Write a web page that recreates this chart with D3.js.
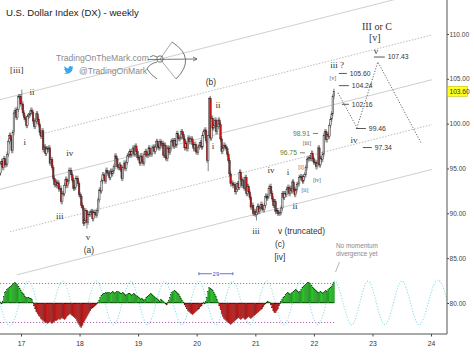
<!DOCTYPE html>
<html>
<head>
<meta charset="utf-8">
<script src="https://cdn.jsdelivr.net/npm/d3@7"></script>
<style>
  html, body { margin: 0; padding: 0; background: #fff; }
  svg { display: block; font-family: "Liberation Sans", Arial, sans-serif; }
</style>
</head>
<body>
<svg id="chart" width="474" height="353"></svg>
<script>
// weekly closes, U.S. Dollar Index, first week ends 2016-08-19
const FIRST_WEEK = '2016-08-19'
const FIRST_OPEN = 94.3
const closes2016 = [94.5, 95.5, 95.8, 95.1, 96.1, 95.4, 95.5, 96.6, 98.0, 98.7, 98.3, 97.0, 99.0, 101.2, 101.5, 100.7, 101.6, 103.0, 103.0, 102.2]
const closes2017 = [102.2, 101.2, 100.7, 100.5, 99.8, 100.8, 100.9, 101.1, 101.5, 101.3, 100.3, 99.7, 100.3, 101.1, 100.5, 99.9, 99.0, 98.6, 99.2, 97.1, 97.4, 96.7, 97.2, 97.1, 97.3, 95.6, 96.0, 95.1, 93.9, 93.2, 93.5, 93.1, 93.4, 92.7, 92.8, 91.3, 92.2, 92.2, 93.1, 93.8, 93.1, 93.6, 94.8, 94.8, 94.3, 93.7, 92.8, 92.9, 93.9, 93.9, 93.3, 92.1]
const closes2018 = [91.9, 90.9, 90.6, 88.9, 89.2, 90.3, 89.0, 89.9, 89.9, 90.1, 90.2, 89.4, 90.1, 90.1, 89.8, 90.3, 91.5, 92.6, 92.5, 93.6, 94.3, 94.2, 93.6, 94.8, 94.5, 94.5, 94.0, 94.7, 94.4, 94.7, 95.2, 96.4, 96.1, 95.2, 95.1, 95.4, 94.9, 93.9, 95.1, 95.6, 95.0, 95.7, 96.4, 96.5, 96.9, 96.5, 96.9, 97.3, 96.6, 97.5, 96.9, 96.2]
const closes2019 = [96.2, 95.6, 96.4, 95.8, 95.6, 96.6, 96.9, 96.5, 96.5, 97.3, 96.6, 96.6, 97.3, 97.4, 96.9, 97.4, 98.0, 97.5, 97.3, 98.0, 97.6, 97.8, 96.5, 97.6, 96.2, 96.1, 97.3, 96.8, 97.2, 98.0, 98.1, 97.5, 98.1, 97.6, 98.9, 98.4, 98.3, 98.5, 99.1, 98.8, 98.3, 97.3, 97.8, 97.2, 98.4, 98.0, 98.3, 98.3, 97.7, 97.2, 97.7, 96.9]
const closes2020 = [96.8, 97.4, 97.6, 97.9, 97.4, 98.7, 99.1, 99.3, 98.1, 95.9, 98.7, 102.8, 98.4, 100.6, 99.5, 99.8, 100.4, 99.1, 99.7, 100.4, 99.9, 98.3, 96.9, 97.3, 97.6, 97.4, 97.2, 96.6, 95.9, 94.4, 93.3, 93.4, 93.1, 93.2, 92.4, 92.7, 93.3, 92.9, 94.6, 93.8, 93.1, 93.7, 92.8, 94.0, 92.2, 93.0, 92.4, 91.8, 90.7, 90.9, 90.0, 90.2]
const closes2021 = [89.9, 90.1, 90.8, 90.2, 90.6, 91.0, 90.5, 90.4, 90.9, 91.9, 91.7, 91.9, 92.8, 93.0, 92.2, 91.6, 90.9, 91.3, 90.2, 90.3, 90.0, 90.0, 90.1, 90.6, 92.2, 91.8, 92.2, 92.1, 92.7, 92.9, 92.2, 92.8, 92.5, 93.5, 92.7, 92.1, 92.6, 93.2, 93.3, 94.0, 94.1, 94.0, 93.6, 94.1, 94.3, 95.1, 96.0, 96.1, 96.2, 96.1, 96.7, 96.1, 95.7]
const closes2022 = [95.7, 95.2, 95.6, 97.3, 95.4, 96.1, 96.0, 96.6, 98.7, 99.1, 98.2, 98.8, 98.6, 99.8, 100.5, 101.1, 103.0, 103.6]

// weeks whose range reached well past the body
const wickExtremes = [
  { date: '2017-01-06', high: 103.8, low: 101.5 },
  { date: '2018-02-16', high: 90.4, low: 88.3 },
  { date: '2020-03-13', high: 99.2, low: 94.7 },
  { date: '2020-03-20', high: 103.0, low: 98.4 },
  { date: '2021-01-08', high: 90.7, low: 89.2 },
]

// momentum histogram, +1 / -1 = dotted bands
const momentum2016 = [0.1, 0.05, -0.05, 0.1, 0.35, 0.55, 0.6, 0.7, 0.75, 0.8, 0.85, 0.9, 0.95, 1.0, 1.05, 1.0, 0.95, 0.85, 0.75, 0.65]
const momentum2017 = [0.55, 0.5, 0.45, 0.35, 0.3, 0.3, 0.3, 0.25, 0.25, 0.2, 0.05, -0.15, -0.3, -0.45, -0.55, -0.65, -0.7, -0.8, -0.85, -0.9, -0.95, -1.0, -1.0, -1.05, -1.0, -0.95, -1.0, -1.05, -1.0, -0.95, -0.9, -0.9, -0.85, -0.8, -0.85, -0.8, -0.75, -0.8, -0.85, -0.8, -0.7, -0.65, -0.6, -0.55, -0.6, -0.65, -0.7, -0.75, -0.8, -0.9, -1.0, -1.1]
const momentum2018 = [-1.2, -1.25, -1.15, -1.0, -0.9, -0.8, -0.7, -0.6, -0.5, -0.4, -0.3, -0.25, -0.2, -0.15, -0.1, -0.05, 0.05, 0.15, 0.3, 0.4, 0.45, 0.5, 0.5, 0.55, 0.5, 0.55, 0.55, 0.5, 0.55, 0.6, 0.55, 0.5, 0.55, 0.6, 0.6, 0.55, 0.5, 0.5, 0.55, 0.5, 0.45, 0.4, 0.45, 0.5, 0.5, 0.45, 0.4, 0.45, 0.5, 0.45, 0.4, 0.35]
const momentum2019 = [0.3, 0.25, 0.2, 0.25, 0.2, 0.15, 0.2, 0.3, 0.35, 0.4, 0.45, 0.5, 0.45, 0.4, 0.35, 0.3, 0.25, 0.2, 0.15, 0.1, 0.2, 0.15, 0.1, 0.05, -0.05, -0.1, 0.05, 0.15, 0.3, 0.45, 0.55, 0.6, 0.65, 0.6, 0.55, 0.5, 0.45, 0.35, 0.25, 0.15, 0.05, -0.1, -0.2, -0.3, -0.4, -0.45, -0.5, -0.55, -0.6, -0.55, -0.5, -0.45]
const momentum2020 = [-0.4, -0.35, -0.3, -0.2, -0.15, -0.05, 0.05, -0.05, 0.1, 0.3, 0.6, 0.8, 0.75, 0.7, 0.65, 0.55, 0.45, 0.35, 0.2, 0.05, -0.15, -0.35, -0.55, -0.7, -0.8, -0.85, -0.9, -0.95, -1.0, -1.05, -1.1, -1.05, -1.0, -0.95, -0.9, -0.85, -0.8, -0.75, -0.8, -0.85, -0.8, -0.75, -0.8, -0.85, -0.8, -0.75, -0.7, -0.75, -0.8, -0.75, -0.7, -0.65]
const momentum2021 = [-0.6, -0.55, -0.5, -0.45, -0.4, -0.35, -0.3, -0.2, -0.1, -0.05, 0.05, 0.1, 0.05, 0.05, -0.1, -0.25, -0.4, -0.5, -0.5, -0.4, -0.3, -0.15, -0.05, 0.1, 0.2, 0.3, 0.35, 0.45, 0.5, 0.55, 0.5, 0.45, 0.5, 0.55, 0.6, 0.65, 0.7, 0.65, 0.6, 0.55, 0.6, 0.7, 0.8, 0.85, 0.9, 0.95, 1.0, 1.05, 1.05, 1.0, 0.9, 0.8, 0.75]
const momentum2022 = [0.7, 0.65, 0.6, 0.55, 0.55, 0.6, 0.55, 0.5, 0.55, 0.6, 0.65, 0.6, 0.7, 0.75, 0.8, 0.85, 0.95, 1.05]

// cycle projection turning points (peak = +, trough = -)
const cycleTurns = [
  ['2016-07-22', 1.12], ['2016-11-04', -1.12], ['2017-02-18', 1.12], ['2017-06-03', -1.12],
  ['2017-09-18', 1.12], ['2018-01-01', -1.12], ['2018-04-17', 1.12], ['2018-08-01', -1.12],
  ['2018-11-16', 1.12], ['2019-03-01', -1.12], ['2019-06-16', 1.12], ['2019-09-30', -1.12],
  ['2020-01-15', 1.12], ['2020-04-30', -1.12], ['2020-08-14', 1.12], ['2020-11-28', -1.12],
  ['2021-03-14', 1.12], ['2021-06-28', -1.12], ['2021-10-12', 1.12], ['2022-01-25', -1.12],
  ['2022-05-10', 1.12], ['2022-08-24', -1.12], ['2022-12-04', 1.12], ['2023-03-20', -1.12],
  ['2023-07-03', 1.12], ['2023-10-17', -1.12], ['2024-02-01', 1.12], ['2024-05-17', -1.12],
]
const cycleSpan = { from: '2020-01-15', to: '2020-08-14', level: 1.5, text: '29' }

// channel lines [date, price] -> [date, price]
const solidChannels = [
  [['2016-08-22', 102.67], ['2024-01-07', 114.9]],
  [['2016-08-22', 92.67], ['2024-01-07', 104.9]],
  [['2016-12-06', 83.14], ['2024-01-07', 94.9]],
]
const dottedChannels = [
  [['2017-04-27', 98.8], ['2024-01-07', 109.9]],
  [['2016-10-24', 87.94], ['2024-01-07', 99.9]],
]

// projected path and target levels
const projection = [['2022-05-31', 103.44], ['2022-09-26', 99.56], ['2023-02-04', 106.89], ['2023-10-30', 97.89]]
const targetLevels = [
  { price: 107.43, from: '2023-01-10', to: '2023-03-19' },
  { price: 105.60, from: '2022-06-06', to: '2022-07-25' },
  { price: 104.24, from: '2022-06-06', to: '2022-08-07' },
  { price: 102.16, from: '2022-06-25', to: '2022-08-07' },
  { price: 99.46, from: '2022-09-20', to: '2022-11-21' },
  { price: 97.34, from: '2022-11-02', to: '2022-12-28' },
]
const fibLevels = [
  { price: 98.91, from: '2021-12-26', to: '2022-01-27' },
  { price: 96.75, from: '2021-10-06', to: '2021-11-06' },
]

// wave labels [text, date, price]
const serifLabels = [
  ['[iii]', '2016-12-06', 106.0], ['ii', '2017-03-10', 103.56], ['i', '2017-01-25', 98.0],
  ['iv', '2017-11-01', 96.78], ['iii', '2017-08-31', 89.67], ['v', '2018-02-22', 87.33],
  ['ii', '2020-05-13', 102.11], ['i', '2020-04-12', 97.56], ['iv', '2021-04-08', 94.78],
  ['i', '2021-07-23', 94.56], ['iii', '2021-01-05', 88.0], ['ii', '2021-09-05', 90.78],
  ['iii ?', '2022-05-25', 106.56], ['v', '2023-01-23', 108.11], ['[v]', '2023-01-16', 109.56],
  ['III or C', '2023-01-29', 110.78], ['iv', '2022-09-08', 98.22],
]
const sansLabels = [
  ['(a)', '2018-02-28', 85.89], ['(b)', '2020-03-30', 104.67],
  ['(c)', '2021-06-03', 86.56], ['[iv]', '2021-06-03', 85.11],
]
const smallLabels = [
  ['[iii]', '2021-11-18', 97.89], ['[i]', '2021-10-12', 95.22], ['[ii]', '2021-11-06', 92.56],
  ['[iv]', '2022-01-20', 93.67], ['[v]', '2022-04-29', 105.11],
]
const truncatedLabel = ['v (truncated)', '2021-05-22', 88.0]

const priceTicks = [80, 85, 90, 95, 100, 105, 110]
const yearTicks = ['2017-01-01', '2018-01-01', '2019-01-01', '2020-01-01', '2021-01-01', '2022-01-01', '2023-01-01', '2024-01-01']
const lastPrice = 103.60

// ---------------------------------------------------------------
const parse = d3.timeParse('%Y-%m-%d')
const svg = d3.select('#chart')
const W = 474, H = 353
const plotRight = 447, plotBottom = 334

const x = d3.scaleTime()
  .domain([new Date(2017, 0, 1), new Date(2024, 0, 1)])
  .range([21, 431])
const y = d3.scaleLinear().domain([80, 110]).range([303, 34])
const yOsc = d3.scaleLinear().domain([-1, 1]).range([322.5, 283.5])

const closes = [].concat(closes2016, closes2017, closes2018, closes2019, closes2020, closes2021, closes2022)
const momentum = [].concat(momentum2016, momentum2017, momentum2018, momentum2019, momentum2020, momentum2021, momentum2022)
const start = parse(FIRST_WEEK)
const fmt = d3.timeFormat('%Y-%m-%d')

const candles = closes.map((c, i) => {
  const date = d3.timeDay.offset(start, 7 * i)
  const open = i === 0 ? FIRST_OPEN : closes[i - 1]
  const ext = wickExtremes.find(e => e.date === fmt(date))
  const high = ext ? ext.high : Math.max(open, c) + 0.3
  const low = ext ? ext.low : Math.min(open, c) - 0.3
  return { date, open, close: c, high, low, mom: momentum[i] }
})

svg.append('rect').attr('width', W).attr('height', H).attr('fill', '#fff')

svg.append('defs').append('clipPath').attr('id', 'plot-clip')
  .append('rect').attr('x', 0).attr('y', 0).attr('width', plotRight).attr('height', plotBottom)

const plot = svg.append('g').attr('clip-path', 'url(#plot-clip)')

// channel lines
const pt = d => [x(parse(d[0])), y(d[1])]
plot.append('g').selectAll('line')
  .data(solidChannels)
  .join('line')
  .attr('x1', d => pt(d[0])[0]).attr('y1', d => pt(d[0])[1])
  .attr('x2', d => pt(d[1])[0]).attr('y2', d => pt(d[1])[1])
  .attr('stroke', '#cfcfcf').attr('stroke-width', 1)
plot.append('g').selectAll('line')
  .data(dottedChannels)
  .join('line')
  .attr('x1', d => pt(d[0])[0]).attr('y1', d => pt(d[0])[1])
  .attr('x2', d => pt(d[1])[0]).attr('y2', d => pt(d[1])[1])
  .attr('stroke', '#bdbdbd').attr('stroke-width', 1).attr('stroke-dasharray', '1.5,1.5')

// watermark
const wm = svg.append('g')
wm.append('text').attr('x', 56).attr('y', 61)
  .attr('font-size', '8.6px').attr('fill', '#8a8a8a').text('TradingOnTheMark.com')
wm.append('text').attr('x', 79).attr('y', 73.5)
  .attr('font-size', '8.6px').attr('fill', '#8a8a8a').text('@TradingOnMark')
wm.append('path')
  .attr('transform', 'translate(64,65.5) scale(0.95)')
  .attr('fill', '#39a7e8')
  .attr('d', 'M10,1.5 c-0.4,0.2 -0.8,0.3 -1.2,0.3 c0.4,-0.3 0.8,-0.7 0.9,-1.1 c-0.4,0.2 -0.9,0.4 -1.3,0.5 c-0.4,-0.4 -0.9,-0.7 -1.5,-0.7 c-1.1,0 -2.1,0.9 -2.1,2.1 c0,0.2 0,0.3 0.1,0.5 c-1.7,-0.1 -3.3,-0.9 -4.3,-2.2 c-0.2,0.3 -0.3,0.7 -0.3,1 c0,0.7 0.4,1.4 0.9,1.7 c-0.3,0 -0.7,-0.1 -1,-0.3 c0,1 0.7,1.9 1.7,2.1 c-0.3,0.1 -0.6,0.1 -0.9,0 c0.3,0.8 1,1.4 2,1.5 c-0.7,0.6 -1.7,0.9 -2.6,0.9 c-0.2,0 -0.3,0 -0.5,0 c0.9,0.6 2,0.9 3.2,0.9 c3.9,0 6,-3.2 6,-6 l0,-0.3 c0.4,-0.3 0.8,-0.7 1.1,-1.1 z')

// archer logo
const logo = svg.append('g').attr('transform', 'translate(145,38)')
  .attr('fill', 'none').attr('stroke', '#555').attr('stroke-width', 0.8)
logo.append('path').attr('d', 'M27,4 Q52,20 31,41')
logo.append('path').attr('d', 'M27,4 L15,21 L31,41').attr('stroke-width', 0.5)
logo.append('path').attr('d', 'M3,21.5 L52,21')
logo.append('path').attr('d', 'M48,19 L52,21 L48,23')
logo.append('circle').attr('cx', 15).attr('cy', 21).attr('r', 3.2)
logo.append('path').attr('d', 'M12,24 Q4,26 2,31 Q6,37 12,41')
logo.append('path').attr('d', 'M5,19 Q8,16 12,19')

// momentum dotted bands
const lastDate = candles[candles.length - 1].date
plot.append('g').selectAll('line')
  .data([1, -1])
  .join('line')
  .attr('x1', 0).attr('x2', x(lastDate) + 1)
  .attr('y1', d => yOsc(d)).attr('y2', d => yOsc(d))
  .attr('stroke', '#b36bb3').attr('stroke-width', 1).attr('stroke-dasharray', '1.2,1.8')

// cycle curve
const cycleLine = d3.line()
  .x(d => x(parse(d[0])))
  .y(d => yOsc(d[1]))
  .curve(d3.curveNatural)
plot.append('path')
  .datum(cycleTurns)
  .attr('d', cycleLine)
  .attr('fill', 'none').attr('stroke', '#8fe0ee').attr('stroke-width', 1.1)
  .attr('stroke-dasharray', '1.2,1.6')

// momentum histogram
const barW = 1.15
plot.append('g').selectAll('rect')
  .data(candles)
  .join('rect')
  .attr('x', d => x(d.date) - barW / 2)
  .attr('width', barW)
  .attr('y', d => Math.min(yOsc(d.mom), yOsc(0)))
  .attr('height', d => Math.abs(yOsc(d.mom) - yOsc(0)))
  .attr('fill', d => d.mom >= 0 ? '#2fe82f' : '#e82020')
  .attr('stroke', d => d.mom >= 0 ? '#0a3a0a' : '#4a0505')
  .attr('stroke-width', 0.3)

// cycle span marker
const span = svg.append('g').attr('stroke', '#4150d0').attr('stroke-width', 0.8)
const sx0 = x(parse(cycleSpan.from)), sx1 = x(parse(cycleSpan.to)), sy = yOsc(cycleSpan.level)
span.append('line').attr('x1', sx0).attr('x2', sx1).attr('y1', sy).attr('y2', sy)
span.append('line').attr('x1', sx0).attr('x2', sx0).attr('y1', sy - 1.5).attr('y2', sy + 1.5)
span.append('line').attr('x1', sx1).attr('x2', sx1).attr('y1', sy - 1.5).attr('y2', sy + 1.5)
svg.append('rect').attr('x', (sx0 + sx1) / 2 - 4).attr('y', sy - 3).attr('width', 8).attr('height', 6).attr('fill', '#fff')
svg.append('text').attr('x', (sx0 + sx1) / 2).attr('y', sy + 2)
  .attr('text-anchor', 'middle').attr('font-size', '6px').attr('fill', '#4150d0').text(cycleSpan.text)

// candles
const bodyW = 1.6
const cg = plot.append('g')
cg.selectAll('line')
  .data(candles)
  .join('line')
  .attr('x1', d => x(d.date)).attr('x2', d => x(d.date))
  .attr('y1', d => y(d.high)).attr('y2', d => y(d.low))
  .attr('stroke', '#333').attr('stroke-width', 0.6)
cg.selectAll('rect')
  .data(candles)
  .join('rect')
  .attr('x', d => x(d.date) - bodyW / 2)
  .attr('width', bodyW)
  .attr('y', d => y(Math.max(d.open, d.close)))
  .attr('height', d => Math.max(0.6, Math.abs(y(d.open) - y(d.close))))
  .attr('fill', d => d.close >= d.open ? '#d6d6d6' : '#c81414')
  .attr('stroke', '#2a2a2a').attr('stroke-width', 0.45)

// projection
plot.append('path')
  .datum(projection)
  .attr('d', d3.line().x(d => x(parse(d[0]))).y(d => y(d[1])))
  .attr('fill', 'none').attr('stroke', '#555').attr('stroke-width', 0.9)
  .attr('stroke-dasharray', '1.2,1.6')

// target levels
const tg = svg.append('g')
tg.selectAll('line')
  .data(targetLevels)
  .join('line')
  .attr('x1', d => x(parse(d.from))).attr('x2', d => x(parse(d.to)))
  .attr('y1', d => y(d.price)).attr('y2', d => y(d.price))
  .attr('stroke', '#444').attr('stroke-width', 0.9)
tg.selectAll('text')
  .data(targetLevels)
  .join('text')
  .attr('x', d => x(parse(d.to)) + 3)
  .attr('y', d => y(d.price) + 2.3)
  .attr('font-size', '6.8px').attr('fill', '#333')
  .text(d => d3.format('.2f')(d.price))

const fg = svg.append('g')
fg.selectAll('line')
  .data(fibLevels)
  .join('line')
  .attr('x1', d => x(parse(d.from))).attr('x2', d => x(parse(d.to)))
  .attr('y1', d => y(d.price)).attr('y2', d => y(d.price))
  .attr('stroke', '#556b2f').attr('stroke-width', 0.8)
fg.selectAll('text')
  .data(fibLevels)
  .join('text')
  .attr('x', d => x(parse(d.from)) - 3)
  .attr('y', d => y(d.price) + 2.3)
  .attr('text-anchor', 'end')
  .attr('font-size', '6.8px').attr('fill', '#5f7f2f')
  .text(d => d3.format('.2f')(d.price))

// wave labels
const lg = svg.append('g').attr('text-anchor', 'middle')
lg.selectAll('text.serif')
  .data(serifLabels)
  .join('text').attr('class', 'serif')
  .attr('x', d => x(parse(d[1]))).attr('y', d => y(d[2]) + 3)
  .attr('font-family', '"Liberation Serif","DejaVu Serif",serif')
  .attr('font-size', d => d[0] === 'III or C' || d[0] === '[v]' ? '10px' : '9px')
  .attr('fill', '#333').text(d => d[0])
lg.selectAll('text.sans')
  .data(sansLabels)
  .join('text').attr('class', 'sans')
  .attr('x', d => x(parse(d[1]))).attr('y', d => y(d[2]) + 3)
  .attr('font-size', '8.4px').attr('fill', '#333').text(d => d[0])
lg.selectAll('text.small')
  .data(smallLabels)
  .join('text').attr('class', 'small')
  .attr('x', d => x(parse(d[1]))).attr('y', d => y(d[2]) + 2)
  .attr('font-family', '"Liberation Serif","DejaVu Serif",serif')
  .attr('font-size', '5.6px').attr('fill', '#555').text(d => d[0])
svg.append('text')
  .attr('x', x(parse(truncatedLabel[1]))).attr('y', y(truncatedLabel[2]) + 3)
  .attr('font-size', '8.4px').attr('fill', '#333').text(truncatedLabel[0])

// divergence note
svg.append('text').attr('x', 336).attr('y', 248)
  .attr('font-size', '6.4px').attr('fill', '#8a8a8a').text('No momentum')
svg.append('text').attr('x', 336).attr('y', 255.5)
  .attr('font-size', '6.4px').attr('fill', '#8a8a8a').text('divergence yet')
svg.append('line').attr('x1', 339.5).attr('y1', 262).attr('x2', 335.5).attr('y2', 272)
  .attr('stroke', '#999').attr('stroke-width', 0.7)

// axes
const xAxis = svg.append('g')
  .attr('transform', `translate(0,${plotBottom})`)
  .call(d3.axisBottom(x).tickValues(yearTicks.map(parse)).tickFormat(d3.timeFormat('%y')).tickSize(2.5))
xAxis.select('.domain').remove()
xAxis.selectAll('.tick line').attr('stroke', '#444')
xAxis.selectAll('.tick text').attr('font-size', '6.8px').attr('fill', '#333')
  .attr('font-family', '"Liberation Sans",Arial,sans-serif').attr('dy', '0.9em')

const yAxis = svg.append('g')
  .attr('transform', `translate(${plotRight},0)`)
  .call(d3.axisRight(y).tickValues(priceTicks).tickFormat(d3.format('.2f')).tickSize(2))
yAxis.select('.domain').remove()
yAxis.selectAll('.tick line').attr('stroke', '#444')
yAxis.selectAll('.tick text').attr('font-size', '6.6px').attr('fill', '#444')
  .attr('font-family', '"Liberation Sans",Arial,sans-serif').attr('x', 2.5)

svg.append('line').attr('x1', 0).attr('x2', plotRight).attr('y1', plotBottom).attr('y2', plotBottom)
  .attr('stroke', '#555').attr('stroke-width', 1)
svg.append('line').attr('x1', plotRight).attr('x2', plotRight).attr('y1', 0).attr('y2', plotBottom)
  .attr('stroke', '#555').attr('stroke-width', 1)

// last price tag
const tag = svg.append('g').attr('transform', `translate(${plotRight},${y(lastPrice)})`)
tag.append('rect').attr('x', 0.5).attr('y', -5).attr('width', 20).attr('height', 10)
  .attr('fill', '#ffff1a').attr('stroke', '#b5b500').attr('stroke-width', 0.5)
tag.append('text').attr('x', 2.5).attr('y', 2.3)
  .attr('font-size', '6.6px').attr('fill', '#333').text(d3.format('.2f')(lastPrice))

// title
svg.append('text').attr('x', 6).attr('y', 16)
  .attr('font-size', '9.6px').attr('fill', '#222')
  .text('U.S. Dollar Index (DX) - weekly')
</script>
</body>
</html>
